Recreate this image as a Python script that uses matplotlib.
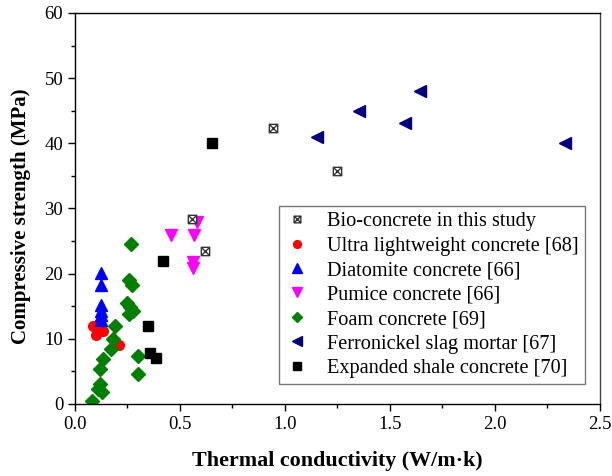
"""
compressive strength vs thermal conductivity scatter
"""

import matplotlib
matplotlib.use("Agg")
import matplotlib.pyplot as plt
from matplotlib.path import Path
from matplotlib.ticker import MultipleLocator

plt.rcParams["font.family"] = "Liberation Serif"

# data (x: W/m.k, y: MPa)
bio_x = [0.559, 0.619, 0.941, 1.249]
bio_y = [28.4, 23.5, 42.4, 35.8]

ultra_x = [0.087, 0.110, 0.098, 0.135, 0.211]
ultra_y = [12.0, 12.0, 10.6, 11.2, 9.0]

diatomite_x = [0.122, 0.122, 0.122, 0.122, 0.122, 0.122]
diatomite_y = [20.1, 18.2, 15.2, 14.3, 13.6, 12.9]

pumice_x = [0.457, 0.568, 0.579, 0.563, 0.560]
pumice_y = [25.9, 25.9, 27.9, 21.8, 20.9]

foam_x = [0.079, 0.119, 0.111, 0.127, 0.119, 0.132, 0.170, 0.179, 0.190,
          0.267, 0.257, 0.270, 0.246, 0.262, 0.278, 0.257, 0.302, 0.298]
foam_y = [0.5, 3.1, 2.3, 1.8, 5.4, 6.9, 8.5, 10.0, 12.0,
          24.5, 19.0, 18.2, 15.5, 14.9, 14.3, 13.8, 7.4, 4.6]

ferro_x = [1.643, 1.354, 1.571, 1.154, 2.333]
ferro_y = [48.0, 45.0, 43.1, 41.0, 40.0]

shale_x = [0.651, 0.421, 0.349, 0.357, 0.384]
shale_y = [40.0, 22.0, 11.9, 7.9, 7.0]

# square with a cross inside
box_x = Path([(-1, -1), (1, -1), (1, 1), (-1, 1), (-1, -1),
              (-1, -1), (1, 1), (-1, 1), (1, -1)],
             [Path.MOVETO, Path.LINETO, Path.LINETO, Path.LINETO, Path.CLOSEPOLY,
              Path.MOVETO, Path.LINETO, Path.MOVETO, Path.LINETO])

fig = plt.figure(figsize=(6.12, 4.76), dpi=100)
ax = fig.add_axes([0.1225, 0.1513, 0.8575, 0.8214])

ax.plot(bio_x, bio_y, ls="none", marker=box_x, ms=6, mfc="white", mec="#333333",
        mew=1.0, label="Bio-concrete in this study", zorder=4)
ax.plot(ultra_x, ultra_y, ls="none", marker="o", ms=7, color="#FF0000",
        label="Ultra lightweight concrete [68]")
ax.plot(diatomite_x, diatomite_y, ls="none", marker="^", ms=8.5, color="#0000FF",
        label="Diatomite concrete [66]")
ax.plot(pumice_x, pumice_y, ls="none", marker="v", ms=8.5, color="#FF00FF",
        label="Pumice concrete [66]")
ax.plot(foam_x, foam_y, ls="none", marker="D", ms=7, color="#008000",
        label="Foam concrete [69]")
ax.plot(ferro_x, ferro_y, ls="none", marker="<", ms=8.5, color="#000080",
        label="Ferronickel slag mortar [67]")
ax.plot(shale_x, shale_y, ls="none", marker="s", ms=6.5, color="black",
        label="Expanded shale concrete [70]")

ax.set_xlim(0, 2.5)
ax.set_ylim(0, 60)
ax.xaxis.set_major_locator(MultipleLocator(0.5))
ax.xaxis.set_minor_locator(MultipleLocator(0.25))
ax.yaxis.set_major_locator(MultipleLocator(10))
ax.yaxis.set_minor_locator(MultipleLocator(5))
ax.xaxis.set_major_formatter(plt.FormatStrFormatter("%.1f"))
ax.tick_params(which="major", direction="out", length=5, width=1, labelsize=13.5,
               top=False, right=False)
ax.tick_params(which="minor", direction="out", length=3, width=1,
               top=False, right=False)
for s in ax.spines.values():
    s.set_linewidth(1.0)
ax.spines["right"].set_color("#444444")

ax.set_xlabel("Thermal conductivity (W/m·k)", fontsize=15.8, fontweight="bold",
              labelpad=13)
ax.set_ylabel("Compressive strength (MPa)", fontsize=15, fontweight="bold")
ax.yaxis.set_label_coords(-0.084, 0.48)

leg = ax.legend(loc="lower right", bbox_to_anchor=(0.971, 0.052), fontsize=14.6,
                frameon=True, fancybox=False, edgecolor="#555555",
                markerscale=0.8, handlelength=1.2, handletextpad=0.9,
                labelspacing=0.26, borderpad=0.28, borderaxespad=0)
leg.get_frame().set_linewidth(1.0)

plt.savefig("out.png", dpi=100)
print("DONE")
